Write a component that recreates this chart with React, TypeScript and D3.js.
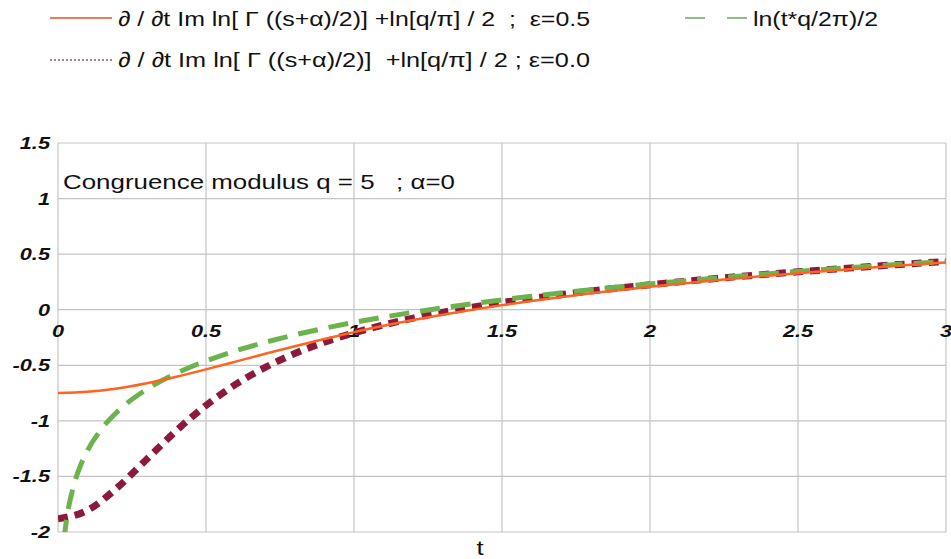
import React from "react";
import * as d3 from "d3";

// t samples
const tValues = [0, 0.1, 0.2, 0.3, 0.4, 0.5, 0.6, 0.7, 0.8, 0.9, 1.0, 1.2, 1.4, 1.6, 1.8, 2.0, 2.25, 2.5, 2.75, 3.0];
// eps = 0.5 (solid orange)
const seriesEps05 = [-0.749, -0.739, -0.709, -0.662, -0.603, -0.537, -0.467, -0.396, -0.328, -0.263, -0.2015, -0.093, 0.0, 0.079, 0.148, 0.207, 0.272, 0.329, 0.380, 0.425];
// eps = 0.0 (dotted dark red)
const seriesEps00 = [-1.881, -1.804, -1.602, -1.345, -1.088, -0.861, -0.672, -0.519, -0.394, -0.292, -0.208, -0.076, 0.023, 0.102, 0.168, 0.225, 0.287, 0.341, 0.390, 0.434];
// ln(t*q/2pi)/2 (dashed green)
const tGreen = [0.02, 0.03, 0.05, 0.075, 0.1, 0.15, 0.2, 0.3, 0.4, 0.5, 0.6, 0.7, 0.8, 0.9, 1.0, 1.2, 1.4, 1.6, 1.8, 2.0, 2.25, 2.5, 2.75, 3.0];
const seriesLog = [-2.070, -1.868, -1.612, -1.409, -1.266, -1.063, -0.919, -0.716, -0.572, -0.461, -0.370, -0.293, -0.226, -0.167, -0.114, -0.023, 0.054, 0.121, 0.180, 0.232, 0.291, 0.344, 0.392, 0.435];

const xTicks = [0, 0.5, 1, 1.5, 2, 2.5, 3];
const xTickLabels = ["0", "0.5", "1", "1.5", "2", "2.5", "3"];
const yTicks = [1.5, 1, 0.5, 0, -0.5, -1, -1.5, -2];
const yTickLabels = ["1.5", "1", "0.5", "0", "-0.5", "-1", "-1.5", "-2"];

const legend1 = "∂ / ∂t Im ln[ Γ ((s+α)/2)] +ln[q/π] / 2  ;  ε=0.5";
const legend2 = "∂ / ∂t Im ln[ Γ ((s+α)/2)]  +ln[q/π] / 2 ; ε=0.0";
const legend3 = "ln(t*q/2π)/2";
const annotation = "Congruence modulus q = 5   ; α=0";
const xTitle = "t";

const W = 951;
const H = 559;
const L = 58, R = 946, T = 143, B = 532;
const SX = 1.28; // horizontal text stretch seen in the reference

function SText(props: { x: number; y: number; anchor?: string; size: number; bold?: boolean; children: string; dy?: string }) {
  return (
    <g transform={`translate(${props.x},${props.y}) scale(${SX},1)`}>
      <text
        x={0}
        y={0}
        dy={props.dy}
        textAnchor={props.anchor || "start"}
        fontSize={props.size}
        fontWeight={props.bold ? "bold" : "normal"}
        fontStyle={props.bold ? "italic" : "normal"}
        fill="#111"
        style={{ whiteSpace: "pre" }}
      >
        {props.children}
      </text>
    </g>
  );
}

export default function App() {
  const x = d3.scaleLinear().domain([0, 3]).range([L, R]);
  const y = d3.scaleLinear().domain([-2, 1.5]).range([B, T]);
  const line = d3
    .line<[number, number]>()
    .x((d) => x(d[0]))
    .y((d) => y(d[1]))
    .curve(d3.curveMonotoneX);

  const orange = line(tValues.map((t, i) => [t, seriesEps05[i]]));
  const red = line(tValues.map((t, i) => [t, seriesEps00[i]]));
  const green = line(tGreen.map((t, i) => [t, seriesLog[i]]));

  const font = "'Liberation Sans', Arial, sans-serif";
  const grid = "#c4c4c4";

  return (
    <svg width={W} height={H} style={{ position: "absolute", left: 0, top: 0, background: "#fff" }} fontFamily={font}>
      <defs>
        <clipPath id="plotclip">
          <rect x={L} y={T} width={R - L} height={B - T} />
        </clipPath>
      </defs>
      {/* grid */}
      {xTicks.map((t) => (
        <line key={"gx" + t} x1={x(t)} x2={x(t)} y1={T} y2={B} stroke={grid} strokeWidth={1.2} />
      ))}
      {yTicks.map((t) => (
        <line key={"gy" + t} x1={L} x2={R} y1={y(t)} y2={y(t)} stroke={grid} strokeWidth={1.2} />
      ))}
      {/* y tick labels */}
      {yTicks.map((t, i) => (
        <SText key={"yl" + t} x={50} y={y(t)} dy="0.35em" anchor="end" size={17} bold>
          {yTickLabels[i]}
        </SText>
      ))}
      {/* x tick labels */}
      {xTicks.map((t, i) => (
        <SText key={"xl" + t} x={x(t)} y={337} anchor="middle" size={17} bold>
          {xTickLabels[i]}
        </SText>
      ))}
      <SText x={480} y={555} anchor="middle" size={20}>{xTitle}</SText>
      <text x={63} y={189} fontSize={21} fill="#111" textLength={392} lengthAdjust="spacingAndGlyphs" style={{ whiteSpace: "pre" }}>{annotation}</text>
      {/* curves */}
      <g clipPath="url(#plotclip)" fill="none">
        <path d={red || ""} stroke="#8c1a3c" strokeWidth={7} strokeDasharray="10,7" />
        <path d={green || ""} stroke="#6db34d" strokeWidth={5} strokeDasharray="20,11" />
        <path d={orange || ""} stroke="#ff6322" strokeWidth={2.5} />
      </g>
      {/* legend */}
      <line x1={50} x2={112} y1={18} y2={18} stroke="#f07a58" strokeWidth={2} />
      <text x={118} y={26} fontSize={21} fill="#111" textLength={472} lengthAdjust="spacingAndGlyphs" style={{ whiteSpace: "pre" }}>{legend1}</text>
      <line x1={50} x2={112} y1={60} y2={60} stroke="#a04a6a" strokeWidth={1.5} strokeDasharray="2,2" />
      <text x={118} y={67} fontSize={21} fill="#111" textLength={472} lengthAdjust="spacingAndGlyphs" style={{ whiteSpace: "pre" }}>{legend2}</text>
      <line x1={685} x2={747} y1={18} y2={18} stroke="#8cc084" strokeWidth={2} strokeDasharray="20,22" />
      <text x={753} y={26} fontSize={21} fill="#111" textLength={125} lengthAdjust="spacingAndGlyphs">{legend3}</text>
    </svg>
  );
}
